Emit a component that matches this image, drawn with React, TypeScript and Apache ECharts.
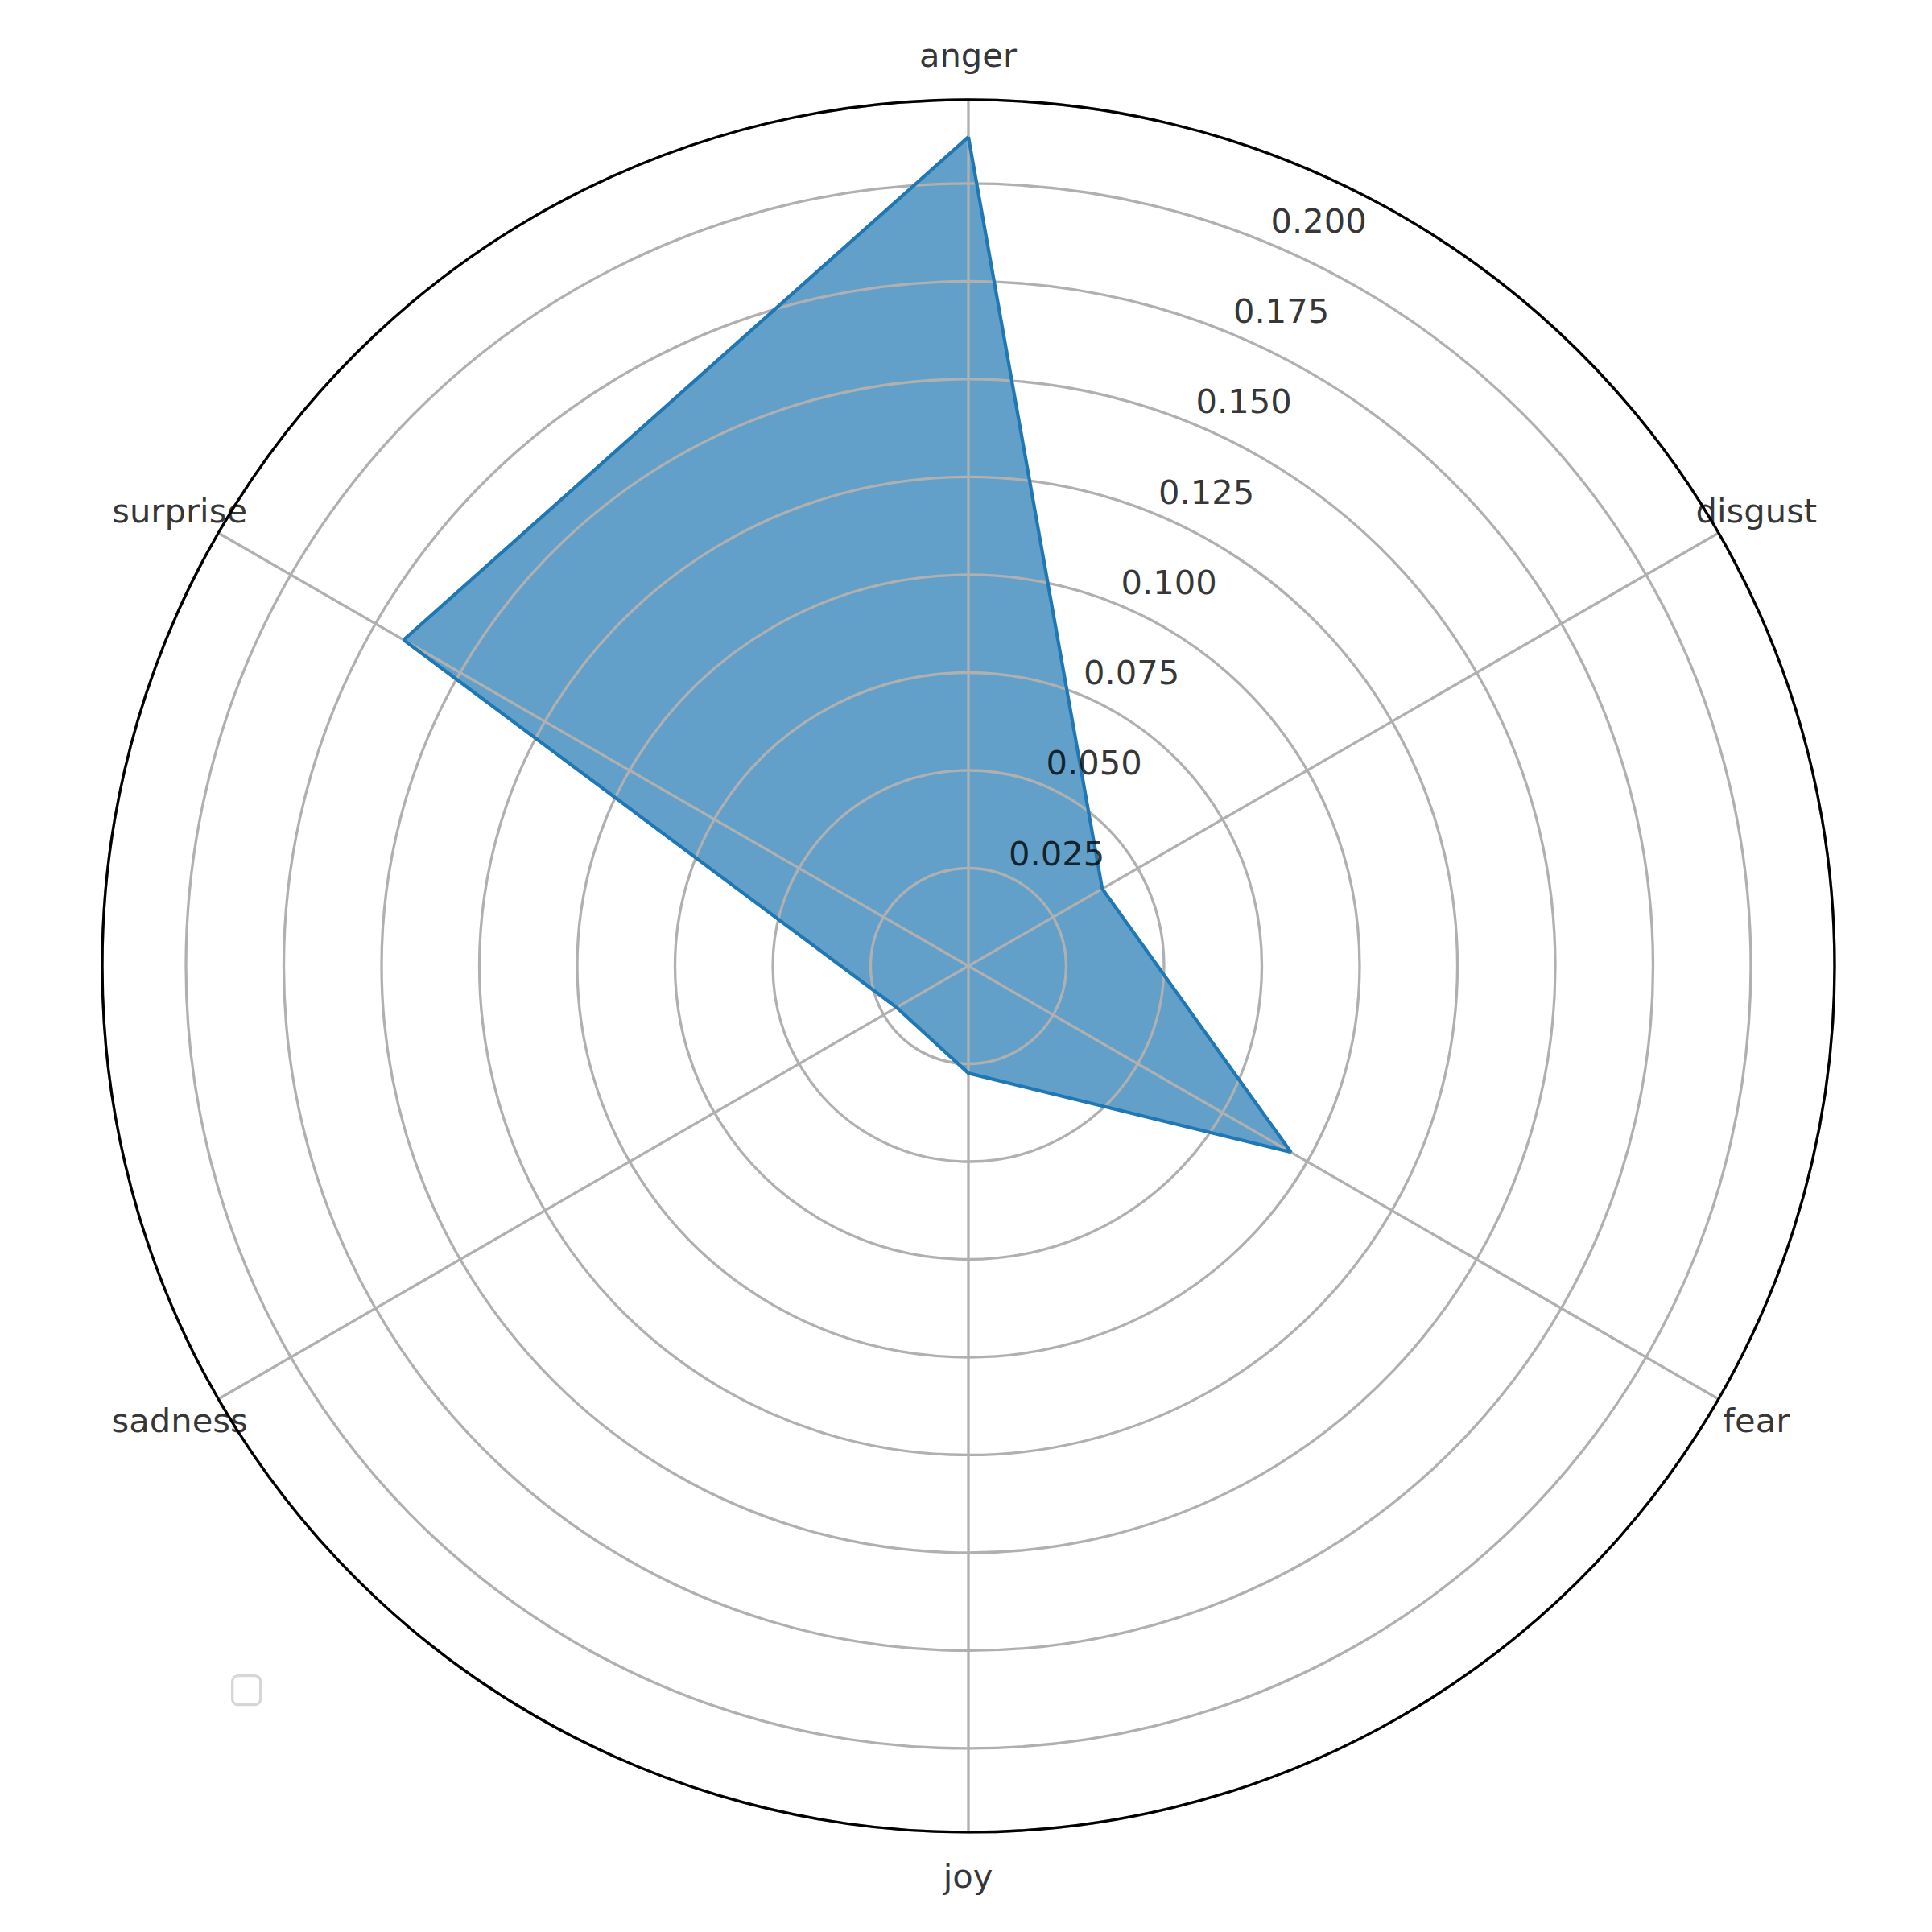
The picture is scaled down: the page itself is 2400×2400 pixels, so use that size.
import React, { useEffect, useRef } from "react";
import * as echarts from "echarts";

const categories = ["anger", "disgust", "fear", "joy", "sadness", "surprise"];
const values = [0.2119, 0.0395, 0.0952, 0.0274, 0.0212, 0.1667];
const radialTicks = [0.025, 0.05, 0.075, 0.1, 0.125, 0.15, 0.175, 0.2];
const radialTickLabels = ["0.025", "0.050", "0.075", "0.100", "0.125", "0.150", "0.175", "0.200"];
const radialMax = 0.2214;

const FONT = "DejaVu Sans";
const FONT_SIZE = 41.7;

export default function App() {
  const ref = useRef<HTMLDivElement>(null);
  useEffect(() => {
    if (!ref.current) return;
    const chart = echarts.init(ref.current, null, { renderer: "svg" });
    const step = 360 / categories.length;
    const polyData = categories.map((_, i) => [values[i], i * step]);
    polyData.push([values[0], 360]);
    const labelR = radialMax * 1.051;
    const option: any = {
      animation: false,
      backgroundColor: "#ffffff",
      polar: { center: [1203, 1200], radius: 1076 },
      angleAxis: {
        type: "value",
        min: 0,
        max: 360,
        interval: step,
        startAngle: 90,
        clockwise: true,
        z: 2,
        axisLine: { show: true, lineStyle: { color: "#000000", width: 3.3 } },
        axisTick: { show: false },
        axisLabel: { show: false },
        splitLine: { show: true, lineStyle: { color: "#b0b0b0", width: 3.3 } },
      },
      radiusAxis: {
        type: "value",
        min: 0,
        max: radialMax,
        interval: 0.025,
        z: 1,
        axisLine: { show: false },
        axisTick: { show: false },
        axisLabel: { show: false },
        splitLine: { show: true, lineStyle: { color: "#b0b0b0", width: 3.3 } },
      },
      series: [
        {
          type: "line",
          coordinateSystem: "polar",
          data: polyData,
          symbol: "none",
          z: -1,
          lineStyle: { width: 0, opacity: 0 },
          areaStyle: { color: "rgba(31,119,180,0.7)", opacity: 1 },
          silent: true,
        },
        {
          type: "line",
          coordinateSystem: "polar",
          data: polyData,
          symbol: "none",
          z: 5,
          lineStyle: { color: "#1f77b4", width: 4.2 },
          silent: true,
        },
        {
          type: "scatter",
          coordinateSystem: "polar",
          clip: false,
          symbol: "circle",
          symbolSize: 1,
          itemStyle: { color: "rgba(0,0,0,0)" },
          z: 6,
          data: radialTicks.map((v) => [v, 22.5]),
          label: {
            show: true,
            position: [0, 0],
            align: "left",
            verticalAlign: "middle",
            offset: [4, -27],
            color: "#000000",
            fontFamily: FONT,
            fontSize: FONT_SIZE,
            formatter: (p: any) => radialTickLabels[p.dataIndex],
          },
          silent: true,
        },
        {
          type: "scatter",
          coordinateSystem: "polar",
          clip: false,
          symbol: "circle",
          symbolSize: 1,
          itemStyle: { color: "rgba(0,0,0,0)" },
          z: 6,
          data: categories.map((_, i) => [labelR, i * step]),
          label: {
            show: true,
            position: [0, 0],
            align: "center",
            verticalAlign: "middle",
            color: "#000000",
            fontFamily: FONT,
            fontSize: FONT_SIZE,
            formatter: (p: any) => categories[p.dataIndex],
          },
          silent: true,
        },
      ],
      graphic: [
        {
          type: "rect",
          left: 287,
          top: 2080,
          shape: { width: 35, height: 36, r: 7 },
          style: { fill: "rgba(255,255,255,0.8)", stroke: "#d6d6d6", lineWidth: 3.3 },
        },
      ],
    };
    chart.setOption(option);
    return () => chart.dispose();
  }, []);
  return (
    <div
      ref={ref}
      style={{ position: "absolute", left: 0, top: 0, width: 2400, height: 2400 }}
    />
  );
}
